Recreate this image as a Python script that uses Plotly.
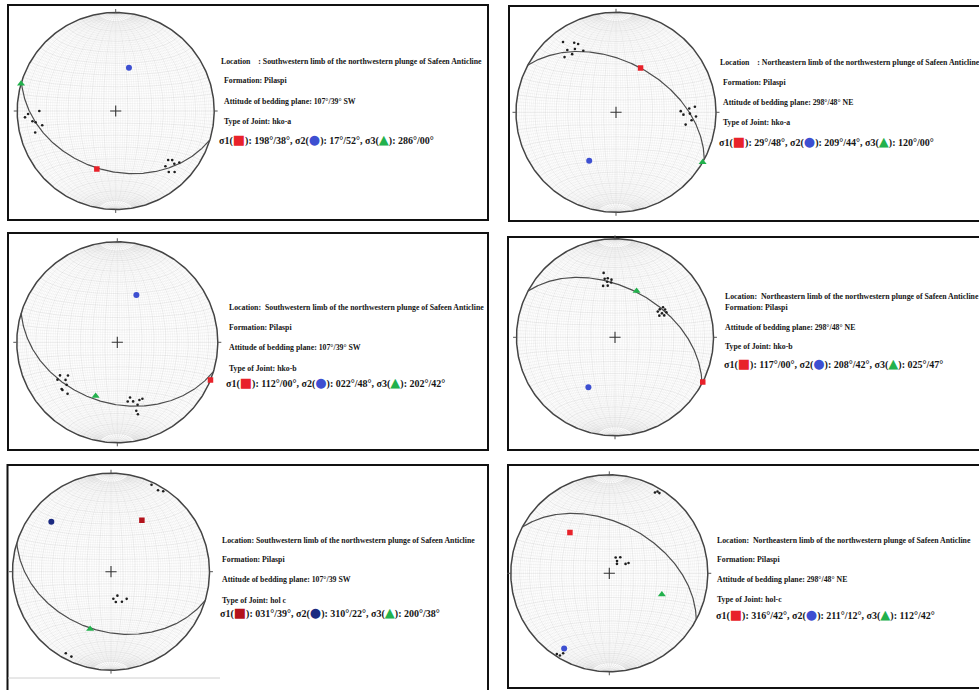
import numpy as np
import plotly.graph_objects as go

W, H = 979, 690

# ---------------- data ----------------
locations = [
    "Location\u00a0\u00a0\u00a0\u00a0: Southwestern limb of the northwestern plunge of Safeen Anticline",
    "Location\u00a0\u00a0\u00a0\u00a0: Northeastern limb of the northwestern plunge of Safeen Anticline",
    "Location:\u00a0\u00a0Southwestern limb of the northwestern plunge of Safeen Anticline",
    "Location:\u00a0\u00a0Northeastern limb of the northwestern plunge of Safeen Anticline",
    "Location: Southwestern limb of the northwestern plunge of Safeen Anticline",
    "Location:\u00a0\u00a0Northeastern limb of the northwestern plunge of Safeen Anticline",
]
formations = ["Pilaspi", "Pilaspi", "Pilaspi", "Pilaspi", "Pilaspi", "Pilaspi"]
bedding_strike = [107, 298, 107, 298, 107, 298]
bedding_dip = [39, 48, 39, 48, 39, 48]
bedding_side = ["SW", "NE", "SW", "NE", "SW", "NE"]
joint_types = ["hko-a", "hko-a", "hko-b", "hko-b", "hol c", "hol-c"]

s1_trend = [198, 29, 112, 117, 31, 316]
s1_plunge = [38, 48, 0, 0, 39, 42]
s2_trend = [17, 209, 22, 208, 310, 211]
s2_plunge = [52, 44, 48, 42, 22, 12]
s3_trend = [286, 120, 202, 25, 200, 112]
s3_plunge = [0, 0, 42, 47, 38, 42]
trend_digits = [0, 0, 3, 3, 3, 3]   # zero padding used in each label

# poles to joints (trend, plunge)
pole_trend = [
    [270, 268, 266, 263, 262, 259, 255, 133, 131, 138, 132, 129, 139, 136],
    [323, 329, 331, 322, 327, 332, 323, 317, 86, 87, 89, 92, 91, 93, 96, 100],
    [240, 236, 238, 234, 230, 230, 229, 224, 167, 170, 165, 159, 156, 162, 164.5, 164],
    [350, 350, 353, 356.5, 352, 356, 347, 352, 58, 58, 61, 59, 64, 63, 64, 66],
    [25, 30, 33, 165, 175, 171, 160, 150, 209, 205],
    [29.5, 30.5, 32, 22, 34.5, 32, 39, 60, 62, 213, 211, 210],
]
pole_plunge = [
    [23.5, 12, 8.5, 16, 19, 25, 16.5, 28, 25, 25.5, 21, 18, 19, 15],
    [13, 20, 23, 22, 25.5, 31, 28, 25.5, 22, 27.5, 35.5, 33, 27, 21, 25, 30],
    [34.5, 40.5, 30.5, 36.5, 34.5, 28.5, 28.5, 29.5, 43, 40, 39, 38.5, 38.5, 35, 30, 26.5],
    [34, 39.5, 39.5, 41, 42.5, 43.5, 45.5, 46, 42, 45.5, 41.5, 48, 41.5, 45.5, 48.5, 44.5],
    [3, 5, 3, 69.5, 67.5, 64.5, 63.5, 64, 6, 5.5],
    [6.5, 4, 4.5, 76, 74, 78, 80, 74.5, 72, 2.5, 3, 7],
]

# ---------------- layout (pixels) ----------------
net_center = [(115.7, 111), (616, 112.3), (117.3, 342.3), (615, 337.3), (111, 571.7), (609.3, 573.3)]
net_radius = [98.5, 100, 100.5, 98.5, 98.5, 98.5]
frames = [(8, 5, 488, 220), (509, 6, 990, 221), (8, 233, 488, 450),
          (508, 237, 990, 450), (7.5, 465, 488, 700), (508, 465, 990, 688)]
text_x = [218.5, 718, 226.5, 723, 220, 715]
text_sig_x = [216.5, 717, 224, 722, 218, 714]
text_rows = [
    (61.7, 80.7, 101.7, 121.7, 139.5),
    (62.3, 82.3, 102.7, 122.7, 141.7),
    (307.3, 327.3, 347.3, 368, 382.5),
    (296.7, 307.3, 327.7, 346.7, 363.3),
    (540, 559, 579.3, 600, 612.3),
    (540, 559, 579.3, 599.3, 614),
]
red = ["#e8222a"] * 4 + ["#b3121b", "#e8222a"]
blue = ["#3d4fd1"] * 4 + ["#1b2a80", "#3d4fd1"]
green = "#22b14c"
EXT = 1.06


def proj(x, y, z):
    """Lower-hemisphere equal-area (Schmidt) projection, x east, y north, z down."""
    f = 1.0 / np.sqrt(1.0 + z)
    return x * f, y * f


def line_xy(trend, plunge):
    t, p = np.radians(np.asarray(trend, float)), np.radians(np.asarray(plunge, float))
    return proj(np.cos(p) * np.sin(t), np.cos(p) * np.cos(t), np.sin(p))


def plane_xy(strike, dip, n=241):
    s, d = np.radians(strike), np.radians(dip)
    dd = s + np.pi / 2
    t = np.linspace(0, np.pi, n)
    sv = np.array([np.sin(s), np.cos(s), 0.0])
    dv = np.array([np.cos(d) * np.sin(dd), np.cos(d) * np.cos(dd), np.sin(d)])
    v = np.outer(np.cos(t), sv) + np.outer(np.sin(t), dv)
    return proj(v[:, 0], v[:, 1], np.clip(v[:, 2], 0, None))


def net_grid(step=2, cap=80):
    fx, fy, mx, my = [], [], [], []
    for lam_deg in range(step, 180, step):
        lim = 90 if lam_deg % 10 == 0 else cap
        phi = np.radians(np.linspace(-lim, lim, 73))
        lam = np.radians(lam_deg)
        X, Y = proj(np.cos(phi) * np.cos(lam), np.sin(phi), np.cos(phi) * np.sin(lam))
        tx, ty = (mx, my) if lam_deg % 10 == 0 else (fx, fy)
        tx += list(X) + [None]
        ty += list(Y) + [None]
    lam = np.radians(np.linspace(0, 180, 73))
    for phi_deg in range(-88, 89, step):
        phi = np.radians(phi_deg)
        X, Y = proj(np.cos(phi) * np.cos(lam), np.full_like(lam, np.sin(phi)), np.cos(phi) * np.sin(lam))
        tx, ty = (mx, my) if phi_deg % 10 == 0 else (fx, fy)
        tx += list(X) + [None]
        ty += list(Y) + [None]
    return fx, fy, mx, my


def px_x(x):
    return x / W


def px_y(y):
    return 1 - y / H


fig = go.Figure()
gfx, gfy, gmx, gmy = net_grid()
ang = np.linspace(0, 2 * np.pi, 361)
shapes, annotations = [], []
font_txt = dict(family="Liberation Serif", size=7.8, color="#151515", weight="bold")
font_sig = dict(family="Liberation Serif", size=10, color="#151515", weight="bold")

for i in range(6):
    k = "" if i == 0 else str(i + 1)
    xa, ya = "x" + k, "y" + k
    cx, cy = net_center[i]
    R = net_radius[i]

    fig.layout["xaxis" + k] = dict(domain=[px_x(cx - EXT * R), px_x(cx + EXT * R)],
                                   range=[-EXT, EXT], visible=False, fixedrange=True)
    fig.layout["yaxis" + k] = dict(domain=[px_y(cy + EXT * R), px_y(cy - EXT * R)],
                                   range=[-EXT, EXT], visible=False, fixedrange=True)

    # net grid
    fig.add_trace(go.Scatter(x=gfx, y=gfy, xaxis=xa, yaxis=ya, mode="lines",
                             line=dict(color="rgba(150,150,150,0.20)", width=0.45),
                             hoverinfo="skip", showlegend=False))
    fig.add_trace(go.Scatter(x=gmx, y=gmy, xaxis=xa, yaxis=ya, mode="lines",
                             line=dict(color="rgba(140,140,140,0.28)", width=0.55),
                             hoverinfo="skip", showlegend=False))
    # primitive circle and N/E/S/W ticks
    fig.add_trace(go.Scatter(x=np.cos(ang), y=np.sin(ang), xaxis=xa, yaxis=ya, mode="lines",
                             line=dict(color="#444", width=1.5), hoverinfo="skip", showlegend=False))
    fig.add_trace(go.Scatter(x=[0, 0, None, 1, 1.035, None, 0, 0, None, -1, -1.035],
                             y=[1, 1.035, None, 0, 0, None, -1, -1.035, None, 0, 0],
                             xaxis=xa, yaxis=ya, mode="lines",
                             line=dict(color="#555", width=1), hoverinfo="skip", showlegend=False))
    # bedding great circle
    gx, gy = plane_xy(bedding_strike[i], bedding_dip[i])
    fig.add_trace(go.Scatter(x=gx, y=gy, xaxis=xa, yaxis=ya, mode="lines",
                             line=dict(color="#4d4d4d", width=1.2), hoverinfo="skip", showlegend=False))
    # joint poles
    px_, py_ = line_xy(pole_trend[i], pole_plunge[i])
    fig.add_trace(go.Scatter(x=px_, y=py_, xaxis=xa, yaxis=ya, mode="markers",
                             marker=dict(color="#1e1e1e", size=2.6), showlegend=False))
    # centre cross
    fig.add_trace(go.Scatter(x=[0], y=[0], xaxis=xa, yaxis=ya, mode="markers",
                             marker=dict(symbol="cross-thin", size=8, line=dict(color="#333", width=1.1)),
                             showlegend=False))
    # principal stress axes
    for tr, pl, sym, col, sz in [(s1_trend[i], s1_plunge[i], "square", red[i], 5.5),
                                 (s2_trend[i], s2_plunge[i], "circle", blue[i], 6),
                                 (s3_trend[i], s3_plunge[i], "triangle-up", green, 7)]:
        sx, sy = line_xy([tr], [pl])
        fig.add_trace(go.Scatter(x=sx, y=sy, xaxis=xa, yaxis=ya, mode="markers",
                                 marker=dict(symbol=sym, color=col, size=sz), showlegend=False))

    # frame
    x0, y0, x1, y1 = frames[i]
    shapes.append(dict(type="rect", xref="paper", yref="paper",
                       x0=px_x(x0), x1=px_x(x1), y0=px_y(y1), y1=px_y(y0),
                       line=dict(color="#111", width=2), fillcolor="rgba(0,0,0,0)", layer="below"))

    # text block
    nd = trend_digits[i]

    def fmt(t, p):
        ts = f"{t:0{nd}d}" if nd else f"{t:d}"
        return f"{ts}°/{p:02d}°"

    if i == 4:
        attitude = f"Attitude of bedding plane: {bedding_strike[i]}°/{bedding_dip[i]} {bedding_side[i]}"
    else:
        attitude = f"Attitude of bedding plane: {bedding_strike[i]}°/{bedding_dip[i]}° {bedding_side[i]}"
    lines = [locations[i], f"Formation: {formations[i]}", attitude, f"Type of Joint: {joint_types[i]}"]
    rows = text_rows[i]
    for j, txt in enumerate(lines):
        xoff = 0 if j == 0 else (3 if i in (0, 1) else 0)
        annotations.append(dict(text=txt, xref="paper", yref="paper", x=px_x(text_x[i] + xoff),
                                y=px_y(rows[j]), xanchor="left", yanchor="middle",
                                showarrow=False, font=font_txt))
    sym_style = "font-size:13px;font-family:DejaVu Sans"
    sig = (f"σ1(<span style='color:{red[i]};{sym_style}'>■</span>): {fmt(s1_trend[i], s1_plunge[i])}, "
           f"σ2(<span style='color:{blue[i]};{sym_style}'>●</span>): {fmt(s2_trend[i], s2_plunge[i])}, "
           f"σ3(<span style='color:{green};{sym_style}'>▲</span>): {fmt(s3_trend[i], s3_plunge[i])}")
    annotations.append(dict(text=sig, xref="paper", yref="paper", x=px_x(text_sig_x[i]),
                            y=px_y(rows[4]), xanchor="left", yanchor="middle",
                            showarrow=False, font=font_sig))

# faint strip under the lower-left net
shapes.append(dict(type="line", xref="paper", yref="paper", x0=px_x(8), x1=px_x(220),
                   y0=px_y(678), y1=px_y(678), line=dict(color="#d0d0d0", width=1)))

fig.update_layout(width=W, height=H, margin=dict(l=0, r=0, t=0, b=0), autosize=False,
                  paper_bgcolor="white", plot_bgcolor="rgba(0,0,0,0)",
                  shapes=shapes, annotations=annotations, showlegend=False)

fig.write_html("out.html")
